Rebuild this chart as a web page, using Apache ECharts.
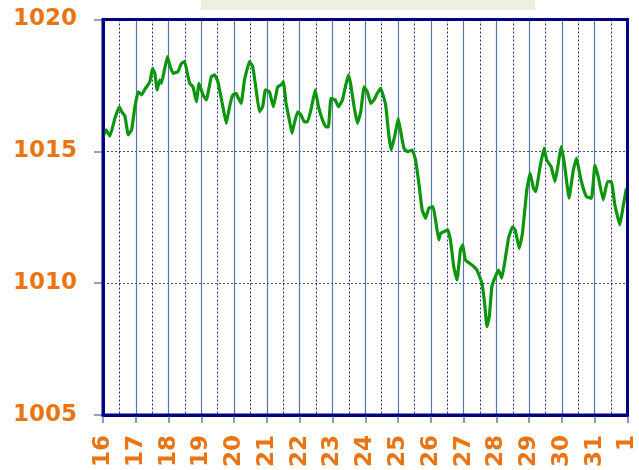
<!DOCTYPE html>
<html>
<head>
<meta charset="utf-8">
<script src="https://cdn.jsdelivr.net/npm/echarts@6/dist/echarts.min.js"></script>
<style>
html,body{margin:0;padding:0;background:#fff;}
#chart{width:639px;height:470px;}
</style>
</head>
<body>
<div id="chart"></div>
<script>
// Day labels (16th of month ... 31st, then 1st of next month)
const dayLabels = ['16','17','18','19','20','21','22','23','24','25','26','27','28','29','30','31','1'];
// Y tick values
const pressureTicks = [1005, 1010, 1015, 1020];
// Time in days since the 16th, 00:00
const timeDays = [
 0.000,0.091,0.213,0.365,0.495,0.578,0.669,0.769,0.872,0.973,
 1.073,1.176,1.277,1.429,1.511,1.581,1.650,1.733,1.784,1.884,
 1.967,2.036,2.137,2.289,2.392,2.492,2.562,2.644,2.745,2.848,
 2.927,3.049,3.152,3.304,3.404,3.505,3.657,3.760,3.860,3.960,
 4.064,4.112,4.216,4.316,4.468,4.568,4.672,4.772,4.872,4.954,
 5.076,5.198,5.328,5.432,5.502,5.584,5.684,5.766,5.836,5.936,
 6.040,6.140,6.240,6.343,6.474,6.574,6.696,6.799,6.878,6.951,
 7.082,7.182,7.304,7.407,7.486,7.559,7.660,7.760,7.863,7.964,
 8.064,8.167,8.267,8.368,8.471,8.541,8.623,8.723,8.793,8.906,
 9.006,9.109,9.179,9.280,9.432,9.535,9.635,9.736,9.839,9.939,
 10.070,10.143,10.243,10.295,10.395,10.517,10.599,10.699,10.799,10.903,
 10.973,11.055,11.255,11.407,11.559,11.641,11.711,11.784,11.863,11.967,
 12.067,12.167,12.271,12.371,12.492,12.574,12.696,12.796,12.927,13.030,
 13.131,13.201,13.334,13.456,13.535,13.669,13.790,13.891,13.973,14.073,
 14.216,14.347,14.447,14.550,14.650,14.751,14.903,15.006,15.106,15.258,
 15.389,15.511,15.614,15.766,15.866,15.967
];
// Pressure in hPa
const pressure = [
 1015.54,1015.81,1015.58,1016.26,1016.69,1016.49,1016.34,1015.62,1015.81,1016.69,
 1017.26,1017.14,1017.35,1017.64,1018.15,1017.96,1017.33,1017.71,1017.58,1018.15,
 1018.59,1018.27,1017.96,1018.02,1018.34,1018.40,1018.02,1017.58,1017.45,1016.88,
 1017.58,1017.14,1016.95,1017.83,1017.90,1017.64,1016.69,1016.06,1016.69,1017.14,
 1017.20,1017.06,1016.82,1017.71,1018.40,1018.21,1017.33,1016.50,1016.69,1017.33,
 1017.26,1016.69,1017.45,1017.52,1017.64,1016.82,1016.19,1015.68,1016.06,1016.50,
 1016.38,1016.12,1016.12,1016.57,1017.33,1016.69,1016.19,1015.93,1015.93,1017.01,
 1016.95,1016.69,1016.95,1017.52,1017.90,1017.52,1016.69,1016.06,1016.50,1017.45,
 1017.26,1016.82,1016.95,1017.20,1017.39,1017.14,1016.76,1015.56,1015.05,1015.62,
 1016.25,1015.56,1015.12,1014.99,1015.05,1014.67,1013.79,1012.78,1012.46,1012.84,
 1012.90,1012.40,1011.64,1011.89,1011.95,1012.02,1011.64,1010.63,1010.12,1011.26,
 1011.45,1010.88,1010.69,1010.50,1010.00,1009.24,1008.35,1008.73,1009.87,1010.25,
 1010.50,1010.19,1010.92,1011.71,1012.14,1012.02,1011.32,1011.89,1013.53,1014.17,
 1013.60,1013.47,1014.42,1015.12,1014.67,1014.42,1013.85,1014.55,1015.18,1014.55,
 1013.22,1014.29,1014.74,1014.10,1013.60,1013.28,1013.22,1014.48,1014.04,1013.16,
 1013.85,1013.85,1012.97,1012.21,1012.90,1013.60
];

const seriesData = timeDays.map((t, i) => [t, pressure[i]]);
const orange = '#ea7414';
const labelFont = {color: orange, fontFamily: 'DejaVu Sans', fontWeight: 'bold', fontSize: 23};

const chart = echarts.init(document.getElementById('chart'), null, {renderer: 'canvas'});
chart.setOption({
  backgroundColor: '#ffffff',
  animation: false,
  graphic: [{
    type: 'rect', left: 201, top: 0, z: 10,
    shape: {width: 334, height: 10},
    style: {fill: '#eef0df'}
  }],
  grid: {
    left: 103, right: 10, top: 19.5, bottom: 55,
    show: true, borderColor: '#000080', borderWidth: 3, backgroundColor: 'transparent', z: 5
  },
  xAxis: [{
    type: 'value', min: 0, max: dayLabels.length - 1, interval: 1, z: 3,
    axisLine: {show: true, lineStyle: {color: '#000080', width: 3}},
    axisTick: {show: true, length: 8, lineStyle: {color: '#5f7fa8', width: 1.5}},
    splitLine: {show: true, lineStyle: {color: '#5a78a4', width: 1.2}},
    axisLabel: Object.assign({
      rotate: 90, margin: 20,
      formatter: v => dayLabels[Math.round(v)] || ''
    }, labelFont)
  }, {
    type: 'value', min: 0, max: dayLabels.length - 1, interval: 0.5, z: 1,
    position: 'bottom',
    axisLine: {show: false}, axisTick: {show: false}, axisLabel: {show: false},
    splitLine: {show: true, lineStyle: {color: '#2a2aa0', width: 1, type: [2, 2]}}
  }],
  yAxis: {
    type: 'value', min: pressureTicks[0], max: pressureTicks[pressureTicks.length - 1], interval: 5,
    axisLine: {show: true, lineStyle: {color: '#000080', width: 3}},
    axisTick: {show: true, length: 9, lineStyle: {color: '#6f88ac', width: 1.5}},
    splitLine: {show: true, lineStyle: {color: '#3a4f8c', width: 1, type: [2, 2]}},
    axisLabel: Object.assign({margin: 26, formatter: v => String(v)}, labelFont)
  },
  series: [{
    type: 'line', xAxisIndex: 0, data: seriesData, z: 4,
    showSymbol: false, smooth: 0.1,
    lineStyle: {color: '#0d960d', width: 3.2}
  }]
});
</script>
</body>
</html>
